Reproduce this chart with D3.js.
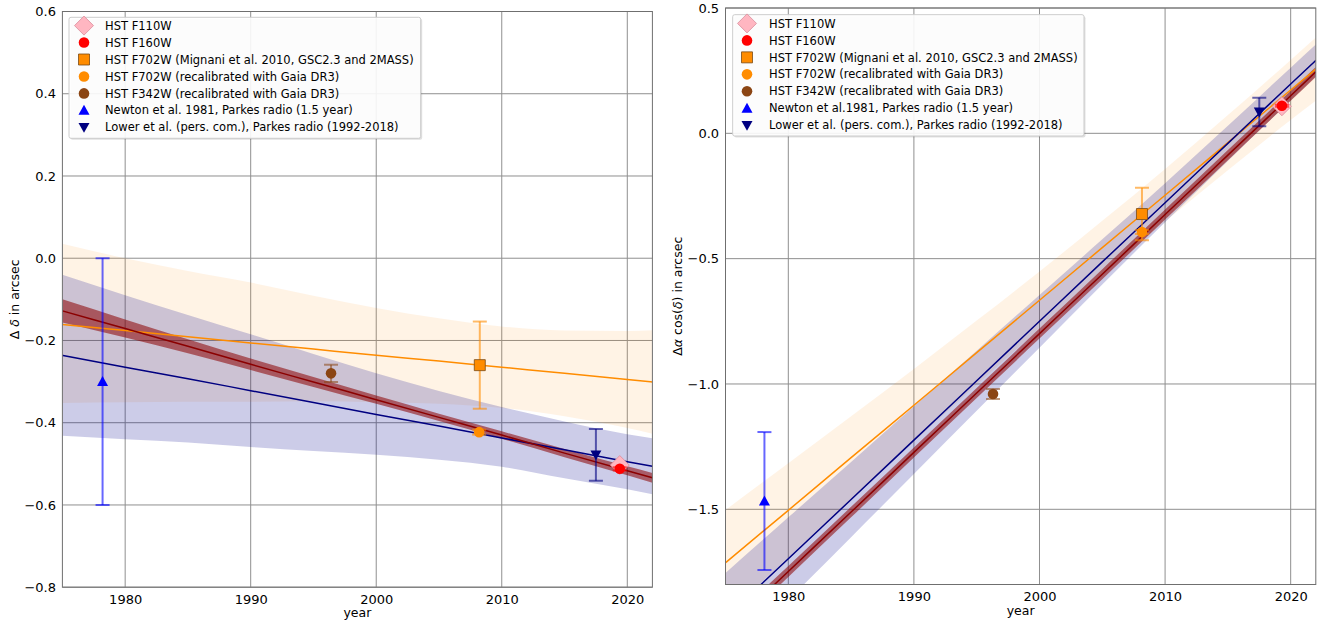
<!DOCTYPE html>
<html><head><meta charset="utf-8">
<script src="https://cdn.jsdelivr.net/npm/d3@7"></script>
<style>body{margin:0;background:#fff;} svg text{font-family:"DejaVu Sans",sans-serif;fill:#000;}</style>
</head><body><svg id="c" width="1323" height="627"></svg>
<script>
// ---------------- data ----------------
const bandYears = [1975, 1980, 1985, 1990, 1995, 2000, 2005, 2010, 2015, 2020, 2022];

// Left panel: Delta delta (arcsec)
const decOrangeFit = [-0.161, -0.176, -0.191, -0.206, -0.221, -0.236, -0.250, -0.265, -0.280, -0.295, -0.301];
const decOrangeHi  = [0.035, 0.000, -0.031, -0.059, -0.091, -0.121, -0.146, -0.166, -0.176, -0.177, -0.175];
const decOrangeLo  = [-0.352, -0.350, -0.349, -0.349, -0.348, -0.350, -0.354, -0.364, -0.384, -0.413, -0.427];
const decBlueFit   = [-0.236, -0.265, -0.293, -0.322, -0.351, -0.380, -0.408, -0.437, -0.466, -0.495, -0.506];
const decBlueHi    = [-0.040, -0.090, -0.138, -0.185, -0.233, -0.280, -0.323, -0.362, -0.397, -0.428, -0.438];
const decBlueLo    = [-0.432, -0.440, -0.448, -0.459, -0.469, -0.478, -0.490, -0.507, -0.535, -0.562, -0.574];
const decRedFit    = [-0.128, -0.171, -0.214, -0.258, -0.301, -0.344, -0.387, -0.430, -0.474, -0.517, -0.534];
const decRedHi     = [-0.100, -0.149, -0.197, -0.244, -0.289, -0.334, -0.378, -0.421, -0.464, -0.506, -0.522];
const decRedLo     = [-0.156, -0.193, -0.231, -0.272, -0.313, -0.354, -0.396, -0.439, -0.484, -0.528, -0.546];

// Right panel: Delta alpha cos(delta) (arcsec)
const raOrangeFit = [-1.713, -1.504, -1.294, -1.085, -0.875, -0.666, -0.456, -0.247, -0.037, 0.173, 0.256];
const raOrangeHi  = [-1.503, -1.316, -1.129, -0.940, -0.747, -0.551, -0.349, -0.142, 0.073, 0.293, 0.382];
const raOrangeLo  = [-1.923, -1.692, -1.459, -1.230, -1.003, -0.781, -0.563, -0.352, -0.147, 0.053, 0.130];
const raBlueFit   = [-1.934, -1.697, -1.461, -1.224, -0.987, -0.750, -0.513, -0.277, -0.040, 0.197, 0.291];
const raBlueHi    = [-1.754, -1.532, -1.311, -1.089, -0.867, -0.645, -0.423, -0.199, 0.030, 0.262, 0.354];
const raBlueLo    = [-2.114, -1.862, -1.611, -1.359, -1.107, -0.855, -0.603, -0.355, -0.110, 0.132, 0.228];
const raRedFit    = [-1.985, -1.748, -1.511, -1.273, -1.036, -0.799, -0.562, -0.324, -0.087, 0.150, 0.245];
const raRedHi     = [-1.960, -1.726, -1.490, -1.253, -1.016, -0.779, -0.542, -0.304, -0.067, 0.170, 0.265];
const raRedLo     = [-2.010, -1.770, -1.532, -1.293, -1.056, -0.819, -0.582, -0.344, -0.107, 0.130, 0.225];

// Measurements (order = legend order)
const legendLeft = [
  "HST F110W", "HST F160W",
  "HST F702W (Mignani et al. 2010, GSC2.3 and 2MASS)",
  "HST F702W (recalibrated with Gaia DR3)",
  "HST F342W (recalibrated with Gaia DR3)",
  "Newton et al. 1981, Parkes radio (1.5 year)",
  "Lower et al. (pers. com.), Parkes radio (1992-2018)"];
const legendRight = [
  "HST F110W", "HST F160W",
  "HST F702W (Mignani et al. 2010, GSC2.3 and 2MASS)",
  "HST F702W (recalibrated with Gaia DR3)",
  "HST F342W (recalibrated with Gaia DR3)",
  "Newton et al.1981, Parkes radio (1.5 year)",
  "Lower et al. (pers. com.), Parkes radio (1992-2018)"];
const decYear = [2019.4, 2019.4, 2008.25, 2008.2, 1996.4, 1978.2, 2017.5];
const decVal  = [-0.503, -0.512, -0.260, -0.423, -0.280, -0.300, -0.478];
const decErr  = [0.004, 0.004, 0.106, 0.006, 0.021, 0.300, 0.063];
const raYear  = [2019.3, 2019.3, 2008.16, 2008.16, 1996.3, 1978.1, 2017.5];
const raVal   = [0.108, 0.110, -0.322, -0.394, -1.040, -1.467, 0.085];
const raErr   = [0.004, 0.004, 0.105, 0.008, 0.020, 0.275, 0.057];

const xTicks = [1980, 1990, 2000, 2010, 2020];
const decTicks = [-0.8, -0.6, -0.4, -0.2, 0.0, 0.2, 0.4, 0.6];
const raTicks = [-1.5, -1.0, -0.5, 0.0, 0.5];

// ---------------- styles ----------------
const markerStyle = [
  {shape:"diamond", fill:"#ffb6c1", stroke:"#d98c9a", size:9.5, err:"rgba(255,182,193,0.6)"},
  {shape:"circle", fill:"#ff0000", stroke:"none", size:5.3, err:"rgba(255,0,0,0.6)"},
  {shape:"square", fill:"#ff8c00", stroke:"#7a4a14", size:5.5, err:"rgba(255,140,0,0.6)"},
  {shape:"circle", fill:"#ff8c00", stroke:"none", size:5.3, err:"rgba(255,140,0,0.6)"},
  {shape:"circle", fill:"#8b4513", stroke:"none", size:5.3, err:"rgba(139,69,19,0.55)"},
  {shape:"tri", fill:"#0000ff", stroke:"none", size:5.5, err:"rgba(0,0,255,0.6)"},
  {shape:"trid", fill:"#000080", stroke:"none", size:5.5, err:"rgba(0,0,128,0.6)"}
];
const drawOrder = [4, 5, 2, 3, 6, 0, 1];

function markerPath(shape, s) {
  switch (shape) {
    case "diamond": return `M0,${-s}L${s},0L0,${s}L${-s},0Z`;
    case "square": return `M${-s},${-s}H${s}V${s}H${-s}Z`;
    case "tri": return `M0,${-s}L${s},${s*0.8}L${-s},${s*0.8}Z`;
    case "trid": return `M0,${s}L${s},${-s*0.8}L${-s},${-s*0.8}Z`;
    default: return d3.symbol(d3.symbolCircle, Math.PI*s*s)();
  }
}

const svg = d3.select("#c");

function drawPanel(cfg) {
  const x = d3.scaleLinear().domain([1975, 2022]).range([cfg.x0, cfg.x1]);
  const y = d3.scaleLinear().domain(cfg.yDomain).range([cfg.y0, cfg.y1]);
  const g = svg.append("g");
  const clipId = "clip" + cfg.id;
  svg.append("defs").append("clipPath").attr("id", clipId)
    .append("rect").attr("x", cfg.x0).attr("y", cfg.y1)
    .attr("width", cfg.x1 - cfg.x0).attr("height", cfg.y0 - cfg.y1);

  // grid
  const gridCol = "#8f8f8f";
  g.selectAll(".gx").data(xTicks).join("line")
    .attr("x1", d => x(d)).attr("x2", d => x(d)).attr("y1", cfg.y0).attr("y2", cfg.y1)
    .attr("stroke", gridCol).attr("stroke-width", 1);
  g.selectAll(".gy").data(cfg.yTicks).join("line")
    .attr("y1", d => y(d)).attr("y2", d => y(d)).attr("x1", cfg.x0).attr("x2", cfg.x1)
    .attr("stroke", gridCol).attr("stroke-width", 1);

  const plot = g.append("g").attr("clip-path", `url(#${clipId})`);
  const area = d3.area().x((d, i) => x(bandYears[i])).y0(d => y(d[0])).y1(d => y(d[1])).curve(d3.curveMonotoneX);
  const line = d3.line().x((d, i) => x(bandYears[i])).y(d => y(d)).curve(d3.curveMonotoneX);
  const zip = (a, b) => a.map((v, i) => [v, b[i]]);

  plot.append("path").attr("d", area(zip(cfg.oLo, cfg.oHi))).attr("fill", "rgba(255,140,0,0.1)");
  plot.append("path").attr("d", area(zip(cfg.bLo, cfg.bHi))).attr("fill", "rgba(0,0,139,0.2)");
  plot.append("path").attr("d", area(zip(cfg.rLo, cfg.rHi))).attr("fill", "rgba(139,0,0,0.55)");
  plot.append("path").attr("d", line(cfg.oFit)).attr("fill", "none").attr("stroke", "#ff8c00").attr("stroke-width", 1.5);
  plot.append("path").attr("d", line(cfg.bFit)).attr("fill", "none").attr("stroke", "#000080").attr("stroke-width", 1.5);
  plot.append("path").attr("d", line(cfg.rFit)).attr("fill", "none").attr("stroke", "#8b0000").attr("stroke-width", 1.5);

  // error bars + markers
  drawOrder.forEach(i => {
    const st = markerStyle[i];
    const px = x(cfg.years[i]), pv = cfg.vals[i], pe = cfg.errs[i];
    const eg = plot.append("g").attr("stroke", st.err).attr("stroke-width", 2).attr("fill", "none");
    eg.append("line").attr("x1", px).attr("x2", px).attr("y1", y(pv - pe)).attr("y2", y(pv + pe));
    [pv - pe, pv + pe].forEach(v => eg.append("line").attr("x1", px - 7).attr("x2", px + 7).attr("y1", y(v)).attr("y2", y(v)));
    plot.append("path").attr("d", markerPath(st.shape, st.size))
      .attr("transform", `translate(${px},${y(pv)})`)
      .attr("fill", st.fill).attr("stroke", st.stroke).attr("stroke-width", 0.8);
  });

  // frame
  g.append("rect").attr("x", cfg.x0).attr("y", cfg.y1).attr("width", cfg.x1 - cfg.x0).attr("height", cfg.y0 - cfg.y1)
    .attr("fill", "none").attr("stroke", "#6f6f6f").attr("stroke-width", 1);

  // axes
  const xa = g.append("g").attr("transform", `translate(0,${cfg.y0})`)
    .call(d3.axisBottom(x).tickValues(xTicks).tickFormat(d3.format("d")).tickSize(0).tickPadding(7.6));
  const ya = g.append("g").attr("transform", `translate(${cfg.x0},0)`)
    .call(d3.axisLeft(y).tickValues(cfg.yTicks).tickFormat(d3.format(".1f")).tickSize(0).tickPadding(6.4));
  [xa, ya].forEach(a => {
    a.select(".domain").remove();
    a.selectAll(".tick line").remove();
    a.selectAll(".tick text").attr("font-size", 13).attr("font-family", "DejaVu Sans").attr("fill", "#000");
  });

  g.append("text").attr("x", (cfg.x0 + cfg.x1) / 2).attr("y", cfg.yearY)
    .attr("text-anchor", "middle").attr("font-size", 12.5).text("year");

  const yl = g.append("text").attr("transform", `translate(${cfg.ylabX},${(cfg.y0 + cfg.y1) / 2}) rotate(-90)`)
    .attr("text-anchor", "middle").attr("dy", "0.35em").attr("font-size", 12.5);
  cfg.ylab.forEach(p => yl.append("tspan").attr("font-style", p[1] ? "italic" : null).text(p[0]));

  // legend
  const L = cfg.legend;
  const lg = g.append("g");
  lg.append("rect").attr("x", L.x + 1.5).attr("y", L.y + 1.5).attr("width", L.w).attr("height", L.h)
    .attr("rx", 2).attr("fill", "rgba(0,0,0,0.12)");
  lg.append("rect").attr("x", L.x).attr("y", L.y).attr("width", L.w).attr("height", L.h)
    .attr("rx", 2).attr("fill", "rgba(255,255,255,0.9)").attr("stroke", "#cccccc").attr("stroke-width", 1);
  cfg.labels.forEach((lab, i) => {
    const st = markerStyle[i];
    const yy = L.row0 + i * L.dy;
    const s = st.shape === "diamond" ? 9.5 : st.size;
    lg.append("path").attr("d", markerPath(st.shape, s)).attr("transform", `translate(${L.mx},${yy})`)
      .attr("fill", st.fill).attr("stroke", st.stroke).attr("stroke-width", 0.8);
    lg.append("text").attr("x", L.tx).attr("y", yy).attr("dy", "0.36em").attr("font-size", 11.5).text(lab);
  });
}

drawPanel({
  id: "L", x0: 62.4, x1: 652.4, y0: 587.2, y1: 11.5, yDomain: [-0.8, 0.6], yTicks: decTicks,
  oLo: decOrangeLo, oHi: decOrangeHi, oFit: decOrangeFit,
  bLo: decBlueLo, bHi: decBlueHi, bFit: decBlueFit,
  rLo: decRedLo, rHi: decRedHi, rFit: decRedFit,
  years: decYear, vals: decVal, errs: decErr,
  yearY: 617, ylabX: 15, ylab: [["Δ ", false], ["δ", true], [" in arcsec", false]],
  labels: legendLeft,
  legend: {x: 69, y: 17.3, w: 351.7, h: 121, row0: 25.6, dy: 16.95, mx: 84, tx: 105}
});
drawPanel({
  id: "R", x0: 725.5, x1: 1315.8, y0: 584.5, y1: 8, yDomain: [-1.8, 0.5], yTicks: raTicks,
  oLo: raOrangeLo, oHi: raOrangeHi, oFit: raOrangeFit,
  bLo: raBlueLo, bHi: raBlueHi, bFit: raBlueFit,
  rLo: raRedLo, rHi: raRedHi, rFit: raRedFit,
  years: raYear, vals: raVal, errs: raErr,
  yearY: 615.3, ylabX: 678, ylab: [["Δ", false], ["α", true], [" cos(", false], ["δ", true], [") in arcsec", false]],
  labels: legendRight,
  legend: {x: 732.7, y: 14.7, w: 351.3, h: 121.3, row0: 23.4, dy: 16.98, mx: 747, tx: 769}
});
</script></body></html>
